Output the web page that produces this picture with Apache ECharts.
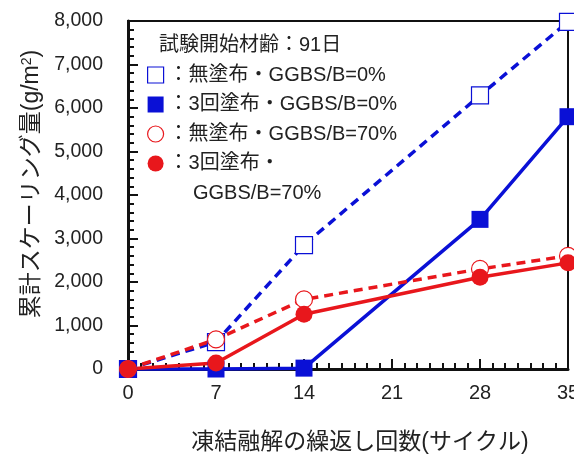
<!DOCTYPE html>
<html>
<head>
<meta charset="utf-8">
<script src="https://cdn.jsdelivr.net/npm/echarts@6/dist/echarts.min.js"></script>
<style>
  html, body { margin: 0; padding: 0; background: #fff; }
  #chart { width: 574px; height: 459px; }
</style>
</head>
<body>
<div id="chart"></div>
<script>
// cycles of freeze-thaw
var cycles = [0, 7, 14, 28, 35];
// cumulative scaling (g/m2)
var uncoated0 = [0, 620, 2850, 6290, 7980];
var coated0 = [0, 0, 20, 3440, 5800];
var uncoated70 = [0, 680, 1600, 2300, 2600];
var coated70 = [0, 140, 1260, 2110, 2440];
var seriesNames = ["：無塗布・GGBS/B=0%", "：3回塗布・GGBS/B=0%", "：無塗布・GGBS/B=70%", "：3回塗布・"];

var BLUE = "#0a10d6";
var RED = "#e8171c";
var FONT = "Liberation Sans, Noto Sans CJK JP, sans-serif";

function pairs(ys) {
    return cycles.map(function (c, i) { return [c, ys[i]]; });
}

function makeSeries(name, ys, color, symbol, open, dashed) {
    return {
        name: name,
        type: "line",
        data: pairs(ys),
        symbol: symbol,
        symbolSize: 17,
        clip: false,
        lineStyle: { color: color, width: 3.5, type: dashed ? [9, 6] : "solid" },
        itemStyle: open
            ? { color: "#fff", borderColor: color, borderWidth: 1.2 }
            : { color: color, borderWidth: 0 }
    };
}

var chart = echarts.init(document.getElementById("chart"));
chart.setOption({
    animation: false,
    textStyle: { fontFamily: FONT },
    grid: {
        left: 128, right: 6, top: 21, bottom: 90,
        containLabel: false,
        outerBoundsMode: "none",
        show: true, borderColor: "#111", borderWidth: 2
    },
    title: {
        text: "試験開始材齢：91日",
        left: 159, top: 35, padding: 0,
        textStyle: { fontSize: 20, fontWeight: "normal", color: "#222", fontFamily: FONT }
    },
    legend: {
        orient: "vertical",
        left: 147, top: 65, padding: 0,
        itemWidth: 16, itemHeight: 16,
        itemGap: 9.5,
        textStyle: { fontSize: 20, color: "#222", fontFamily: FONT },
        data: [
            { name: seriesNames[0], icon: "rect", itemStyle: { color: "#fff", borderColor: BLUE, borderWidth: 1.2 } },
            { name: seriesNames[1], icon: "rect", itemStyle: { color: BLUE } },
            { name: seriesNames[2], icon: "circle", itemStyle: { color: "#fff", borderColor: RED, borderWidth: 1.2 } },
            { name: seriesNames[3], icon: "circle", itemStyle: { color: RED } }
        ]
    },
    graphic: [{
        type: "text",
        left: 193, top: 183,
        style: { text: "GGBS/B=70%", fontSize: 20, fill: "#222", fontFamily: FONT }
    }, {
        // y axis title, with a real superscript
        type: "text",
        x: 32, y: 184,
        rotation: Math.PI / 2,
        style: {
            text: "{a|累計スケーリング量(g/m}{s|2}{a|)}",
            align: "center",
            verticalAlign: "middle",
            fill: "#222",
            fontFamily: FONT,
            rich: {
                a: { fontSize: 23, fill: "#222", fontFamily: FONT, verticalAlign: "bottom" },
                s: { fontSize: 14, fill: "#222", fontFamily: FONT, verticalAlign: "top" }
            }
        }
    }],
    xAxis: {
        type: "value",
        min: 0, max: 35, interval: 7,
        name: "凍結融解の繰返し回数(サイクル)",
        nameLocation: "middle",
        nameGap: 62,
        nameTextStyle: { fontSize: 23, color: "#222", fontFamily: FONT, padding: [0, 0, 0, 24] },
        axisLine: { show: true, lineStyle: { color: "#111", width: 3 } },
        axisTick: { show: true, inside: true, length: 10, lineStyle: { color: "#111", width: 2 } },
        minorTick: { show: true, splitNumber: 7, length: 6, lineStyle: { color: "#111", width: 2 } },
        axisLabel: { fontSize: 20, color: "#222", margin: 14 },
        splitLine: { show: false }
    },
    yAxis: {
        type: "value",
        min: 0, max: 8000, interval: 1000,
        axisLine: { show: true, lineStyle: { color: "#111", width: 3 } },
        axisTick: { show: true, inside: true, length: 10, lineStyle: { color: "#111", width: 2 } },
        minorTick: { show: true, splitNumber: 5, length: 6, lineStyle: { color: "#111", width: 2 } },
        axisLabel: {
            fontSize: 19.5, color: "#222", margin: 25,
            formatter: function (v) { return v.toLocaleString("en-US"); }
        },
        splitLine: { show: false }
    },
    series: [
        makeSeries(seriesNames[0], uncoated0, BLUE, "rect", true, true),
        makeSeries(seriesNames[1], coated0, BLUE, "rect", false, false),
        makeSeries(seriesNames[2], uncoated70, RED, "circle", true, true),
        makeSeries(seriesNames[3], coated70, RED, "circle", false, false)
    ]
});
window.addEventListener("resize", function () { chart.resize(); });
</script>
</body>
</html>
